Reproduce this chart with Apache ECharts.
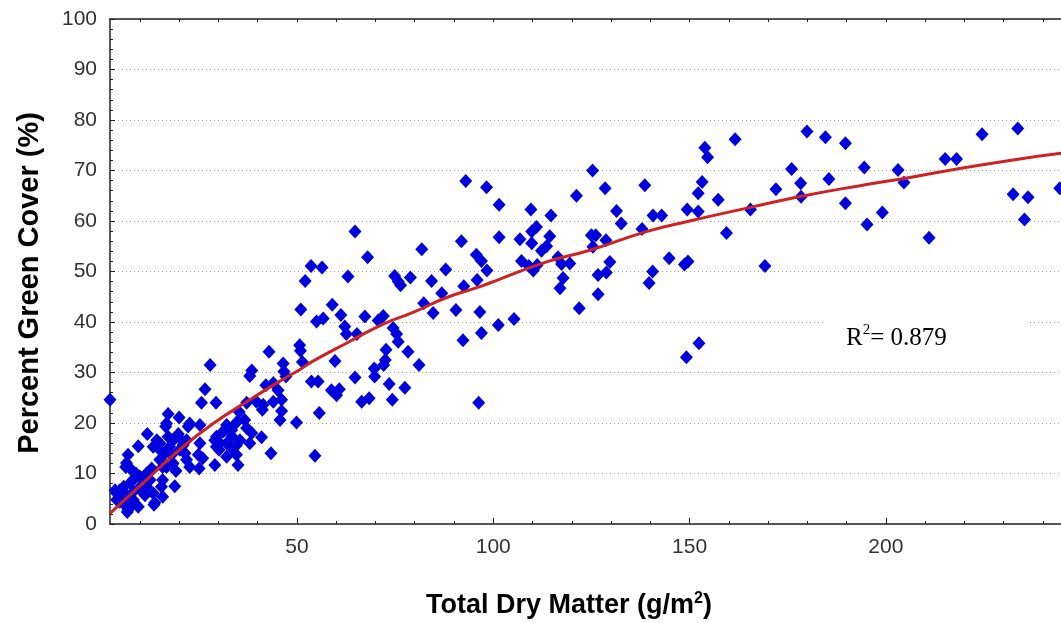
<!DOCTYPE html>
<html>
<head>
<meta charset="utf-8">
<script src="https://cdn.jsdelivr.net/npm/echarts@6/dist/echarts.min.js"></script>
<style>
html,body{margin:0;padding:0;background:#fff;}
#chart{width:1061px;height:623px;}
</style>
</head>
<body>
<div id="chart"></div>
<script>
// Observed points [Total Dry Matter (g/m2), Percent Green Cover (%)]
const obsUnder25 = [
[2.4,24.6],[4.1,6.1],[4.1,4.8],[4.9,6.7],[5.1,5.4],[5.8,4.1],[5.9,7.4],[6.6,5.7],[6.8,2.4],[7.6,3.4],
[8.3,4.8],[6.4,11.3],[6.6,12.1],[7.0,13.7],[7.9,10.7],[9.0,10.0],[10.0,9.4],[11.0,8.7],[8.3,8.7],[7.5,8.1],
[8.3,6.4],[9.8,7.1],[11.7,7.4],[11.3,5.7],[9.6,3.4],[11.7,10.0],[12.6,8.7],[9.6,15.4],[11.9,17.8],[3.7,6.7],
[4.9,4.4],[7.0,2.8],[13.8,4.2],[15.8,8.7],[13.0,11.0],[13.4,6.1],[13.6,3.8],[15.8,5.4],[15.5,7.4],[15.1,12.7],
[15.8,11.3],[16.4,14.0],[15.1,14.7],[15.1,16.0],[14.3,16.6],[13.4,15.3],[16.6,19.3],[16.8,19.9],[17.2,17.3],[17.2,21.8],
[18.5,16.6],[17.6,15.3],[18.1,13.7],[19.8,17.8],[20.0,21.1],[20.2,14.7],[21.5,14.0],[19.2,10.5],[18.9,7.5],[16.8,11.3],
[18.5,12.0],[20.6,16.6],[21.0,15.6],[21.9,16.6],[21.9,12.7],[22.7,11.3],[22.3,19.3],[22.7,19.9],[24.9,13.7]
];
const obs25to50 = [
[25.1,11.0],[26.0,13.0],[25.3,19.6],[25.3,16.0],[25.7,24.0],[26.6,26.7],[27.9,31.5],[29.4,24.0],[29.5,17.3],[29.1,16.6],
[30.4,16.0],[29.5,15.3],[30.2,14.7],[29.1,11.7],[31.2,18.3],[32.1,19.6],[33.4,18.6],[32.1,16.0],[33.4,15.0],[34.6,15.6],
[35.5,16.6],[33.4,17.4],[32.1,13.3],[34.6,13.7],[35.0,11.7],[35.3,22.2],[34.6,20.1],[36.7,20.6],[37.2,19.0],[38.5,18.0],
[37.2,24.0],[38.5,30.4],[38.0,29.3],[38.0,16.0],[39.7,24.2],[41.4,23.6],[41.2,22.6],[41.0,17.2],[42.1,27.5],[42.9,34.1],
[43.4,14.0],[44.0,27.9],[44.0,24.2],[45.2,26.5],[46.1,24.6],[46.1,22.4],[45.7,20.6],[46.5,31.8],[46.7,30.2],[47.2,29.2],
[49.9,20.1]
];
const obs50to100 = [
[50.7,35.4],[50.9,34.3],[51.4,32.1],[51.0,42.5],[52.1,48.1],[53.6,51.1],[56.4,50.8],[53.7,28.2],[55.4,28.2],[55.7,22.0],
[54.6,13.5],[55.0,40.1],[56.7,40.7],[59.0,43.4],[58.8,26.5],[59.7,32.3],[60.8,26.7],[60.1,25.5],[61.2,41.4],[62.2,39.1],
[62.6,37.6],[63.0,49.0],[64.8,57.9],[64.8,29.0],[65.3,37.6],[66.5,24.2],[67.3,41.1],[68.0,52.8],[68.4,24.9],[69.7,30.8],
[69.8,29.2],[70.7,40.3],[72.0,41.2],[72.7,34.5],[72.5,32.5],[72.1,31.5],[73.5,27.7],[74.3,24.6],[74.5,38.8],[75.4,37.6],
[75.8,36.1],[74.9,49.1],[75.8,48.0],[76.4,47.3],[77.5,27.0],[78.3,34.1],[78.9,48.8],[81.1,31.5],[81.8,54.4],[82.3,43.7],
[84.3,48.1],[84.7,41.8],[86.9,45.7],[87.9,50.4],[90.5,42.4],[91.9,56.0],[92.5,47.1],[92.3,36.4],[93.0,67.9],[95.7,53.3],
[97.0,52.1],[98.4,50.2],[95.9,48.3],[96.6,42.0],[97.0,37.8],[96.3,24.0],[98.3,66.7]
];
const obs100to150 = [
[101.5,63.2],[101.5,56.8],[101.3,39.4],[105.3,40.6],[106.8,56.4],[107.2,52.1],[109.6,62.3],[109.8,57.9],[111.0,58.8],[109.8,55.6],
[109.1,51.1],[110.2,50.2],[111.2,51.3],[112.3,54.1],[113.6,55.0],[114.4,57.0],[114.7,61.1],[116.5,52.8],[117.4,51.5],[119.5,51.6],
[117.8,48.7],[117.0,46.7],[121.2,65.0],[121.9,42.7],[125.3,70.0],[125.0,57.2],[126.1,57.2],[125.4,54.9],[126.7,49.3],[126.7,45.5],
[128.5,66.5],[128.7,56.2],[129.7,51.9],[128.8,49.8],[131.4,62.0],[132.6,59.5],[137.9,58.4],[138.6,67.1],[139.7,47.7],[140.6,50.0],
[140.7,61.1],[142.9,61.1],[144.8,52.6],[148.7,51.4],[149.6,52.0],[149.2,33.0],[149.4,62.3]
];
const obsOver150 = [
[152.2,61.9],[152.2,65.5],[152.4,35.8],[153.2,67.7],[153.9,74.5],[154.6,72.6],[157.3,64.2],[159.4,57.6],[161.6,76.2],[165.5,62.3],
[169.2,51.1],[172.0,66.3],[176.0,70.3],[178.3,67.5],[178.4,64.8],[179.9,77.7],[184.6,76.6],[185.5,68.3],[189.7,75.4],[189.7,63.5],
[194.5,70.6],[195.2,59.3],[199.1,61.7],[203.1,70.1],[204.6,67.6],[211.0,56.7],[215.1,72.3],[218.0,72.3],[224.5,77.2],[233.6,78.3],
[232.4,65.3],[236.2,64.7],[235.3,60.3],[244.3,66.5]
];
// Fitted curve
const fitDryMatter  = [2.4, 12.6, 21.0, 28.7, 38.0, 45.7, 50.8, 54.0, 62.6, 72.0, 79.6, 88.0, 96.6, 101.7, 113.6, 124.6, 139.0, 150.0, 165.5, 178.5, 193.4, 204.6, 218.8, 232.4, 244.6];
const fitGreenCover = [2.1, 9.4, 15.3, 19.9, 24.6, 28.3, 30.6, 32.2, 35.8, 39.6, 41.9, 44.8, 47.0, 48.5, 51.9, 54.2, 57.9, 60.0, 62.7, 64.9, 67.0, 68.4, 70.4, 72.1, 73.4];
// Tick labels
const xTickLabels = [50, 100, 150, 200];
const xMinorTicks = [10, 20, 30, 40, 50, 60, 70, 80, 90, 100, 110, 120, 130, 140, 150, 160, 170, 180, 190, 200, 210, 220, 230, 240];
const yTickLabels = [0, 10, 20, 30, 40, 50, 60, 70, 80, 90, 100];
const rSquared = '0.879';

const observed = [].concat(obsUnder25, obs25to50, obs50to100, obs100to150, obsOver150);
const fitLine = fitDryMatter.map((x, i) => [x, fitGreenCover[i]]);

const FONT = '"Liberation Sans", Arial, sans-serif';
const X_MIN = 2.4, X_MAX = 244.6;
const axisColor = '#222';

const chart = echarts.init(document.getElementById('chart'), null, {renderer: 'canvas'});
chart.setOption({
  animation: false,
  backgroundColor: '#ffffff',
  grid: {left: 110, top: 19, right: 0, bottom: 99},
  xAxis: [
    {
      type: 'value', min: X_MIN, max: X_MAX, position: 'bottom',
      axisLine: {onZero: false, lineStyle: {color: axisColor, width: 1.5}},
      axisTick: {inside: true, length: 6, customValues: xTickLabels, lineStyle: {color: axisColor}},
      axisLabel: {customValues: xTickLabels, fontSize: 21, color: '#333', margin: 13, fontFamily: FONT},
      splitLine: {show: false}
    },
    {
      type: 'value', min: X_MIN, max: X_MAX, position: 'bottom',
      axisLine: {show: false},
      axisTick: {inside: true, length: 3, customValues: xMinorTicks, lineStyle: {color: axisColor}},
      axisLabel: {show: false},
      splitLine: {show: false}
    },
    {
      type: 'value', min: X_MIN, max: X_MAX, position: 'top',
      axisLine: {onZero: false, lineStyle: {color: axisColor, width: 1.5}},
      axisTick: {inside: true, length: 3, customValues: xMinorTicks, lineStyle: {color: axisColor}},
      axisLabel: {show: false},
      splitLine: {show: false}
    }
  ],
  yAxis: {
    type: 'value', min: 0, max: 100, interval: 10,
    axisLine: {show: true, onZero: false, lineStyle: {color: axisColor, width: 1.5}},
    axisTick: {show: true, inside: true, length: 5, lineStyle: {color: axisColor}},
    minorTick: {show: true, splitNumber: 5, length: 3, lineStyle: {color: axisColor}},
    axisLabel: {
      fontSize: 21, color: '#333', margin: 13, fontFamily: FONT,
      formatter: v => (yTickLabels.indexOf(v) >= 0 ? String(v) : '')
    },
    splitLine: {show: true, lineStyle: {type: [1, 3], color: '#a0a0a0', width: 1}}
  },
  series: [
    {
      type: 'scatter', xAxisIndex: 0, data: observed,
      symbol: 'diamond', symbolSize: [13, 14],
      itemStyle: {color: '#0000dc', opacity: 1}, z: 2
    },
    {
      type: 'line', xAxisIndex: 0, data: fitLine, smooth: true,
      showSymbol: false, lineStyle: {color: '#cf2222', width: 3}, z: 3
    }
  ],
  graphic: [
    {type: 'rect', shape: {x: 825, y: 306, width: 202, height: 58}, style: {fill: '#ffffff'}, z: 50},
    {
      type: 'text', x: 846, y: 338, z: 51,
      style: {
        text: '{r|R}{s|2}{r|= ' + rSquared + '}',
        align: 'left', verticalAlign: 'middle',
        rich: {
          r: {fontFamily: '"Liberation Serif", "Times New Roman", serif', fontSize: 25, fill: '#000', lineHeight: 30},
          s: {fontFamily: '"Liberation Serif", "Times New Roman", serif', fontSize: 15, fill: '#000', verticalAlign: 'top', lineHeight: 30}
        }
      }
    },
    {
      type: 'text', x: 569, y: 606, z: 51,
      style: {
        text: '{t|Total Dry Matter (g/m}{s|2}{t|)}',
        align: 'center', verticalAlign: 'middle',
        rich: {
          t: {fontFamily: FONT, fontWeight: 'bold', fontSize: 27, fill: '#000', lineHeight: 30},
          s: {fontFamily: FONT, fontWeight: 'bold', fontSize: 16, fill: '#000', verticalAlign: 'top', lineHeight: 30}
        }
      }
    },
    {
      type: 'text', x: 30, y: 283, rotation: Math.PI / 2, z: 51,
      style: {
        text: 'Percent Green Cover (%)',
        font: 'bold 29px ' + FONT,
        fill: '#000', align: 'center', verticalAlign: 'middle'
      }
    }
  ]
});
</script>
</body>
</html>
